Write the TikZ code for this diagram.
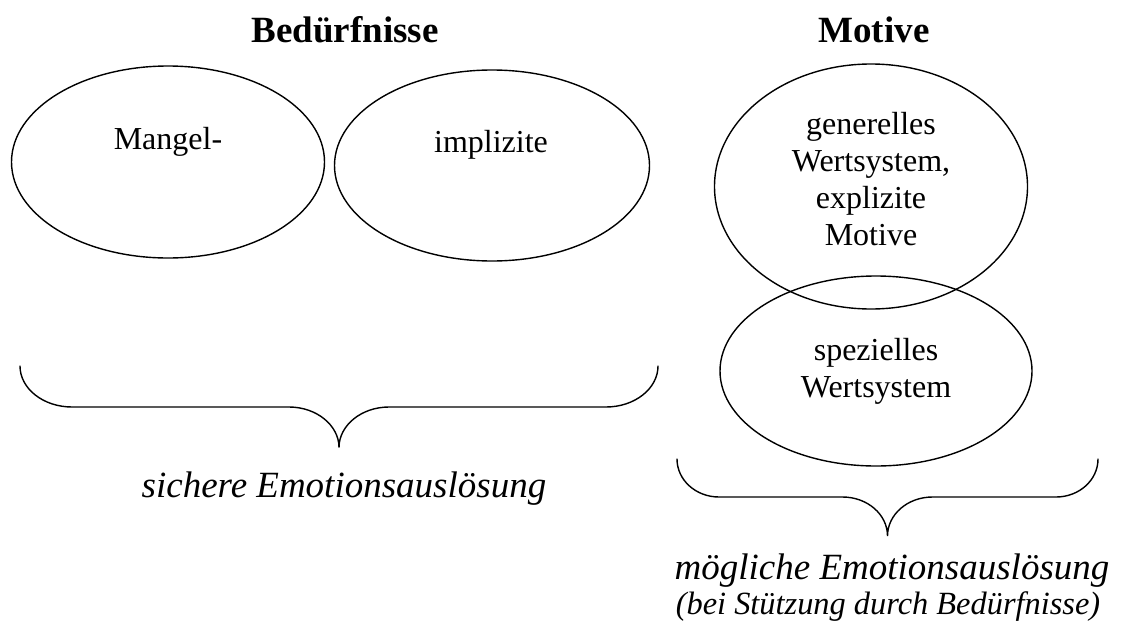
\documentclass[tikz,border=0pt]{standalone}
\usepackage{fontspec}
\setmainfont{Liberation Serif}
\usetikzlibrary{shapes.geometric}
\begin{document}
\begin{tikzpicture}[x=1pt,y=-1pt,
  ring/.style={draw, ellipse, line width=1.4pt, inner sep=0pt, outer sep=0pt},
  heading/.style={font=\fontsize{37}{42}\selectfont\bfseries, inner sep=0pt, anchor=base},
  ringtext/.style={font=\fontsize{32}{36.8}\selectfont, inner sep=0pt, align=center},
  outcome/.style={font=\fontsize{37}{42}\selectfont\itshape, inner sep=0pt, anchor=base},
  outcomenote/.style={font=\fontsize{32.4}{37}\selectfont\itshape, inner sep=0pt, anchor=base},
  bracket/.style={line width=1.4pt, line cap=round}]
\useasboundingbox (0,0) rectangle (1124,624);

% headings
\node[heading] (hneeds) at (345,42) {Bedürfnisse};
\node[heading] (hmotives) at (874,42) {Motive};

% needs
\node[ring, minimum width=313, minimum height=192] (emangel) at (168,162) {};
\node[ring, minimum width=315, minimum height=191] (eimpl) at (492,165.5) {};
\node[ringtext, anchor=base] (tmangel) at (168,149) {Mangel-};
\node[ringtext, anchor=base] (timpl) at (491,152) {implizite};

% motives
\node[ring, minimum width=313, minimum height=245] (egen) at (871,186.5) {};
\node[ring, minimum width=312, minimum height=190] (espez) at (876,371) {};
\node[ringtext] (tgen) at (871,179) {generelles\\Wertsystem,\\explizite\\Motive};
\node[ringtext] (tspez) at (876,371) {spezielles\\Wertsystem};

% brace under the needs
\draw[bracket] (20,366) .. controls (20,388.6) and (43.3,407) .. (72,407)
  -- (289,407) .. controls (316.6,407) and (339,425.4) .. (339,447.5)
  .. controls (339,425.4) and (361.4,407) .. (389,407)
  -- (606,407) .. controls (634.7,407) and (658,388.6) .. (658,366);

% brace under the motives
\draw[bracket] (677,459) .. controls (677,480) and (695.8,497) .. (719,497)
  -- (842.5,497) .. controls (867.4,497) and (887.5,514.5) .. (887.5,536)
  .. controls (887.5,514.5) and (907.6,497) .. (932.5,497)
  -- (1056,497) .. controls (1079.2,497) and (1098,480) .. (1098,459);

% outcomes
\node[outcome] (tsure) at (344,497) {sichere Emotionsauslösung};
\node[outcome] (tposs) at (892,579) {mögliche Emotionsauslösung};
\node[outcomenote] (tcond) at (888,614) {(bei Stützung durch Bedürfnisse)};
\end{tikzpicture}
\end{document}
